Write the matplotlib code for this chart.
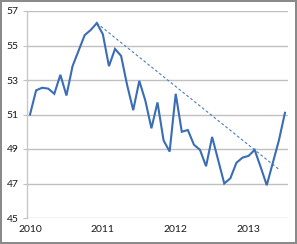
import matplotlib
matplotlib.use("Agg")
import matplotlib.pyplot as plt
import numpy as np

# Monthly index values, Jan 2010 .. Jul 2013
values = [51.0, 52.4, 52.55, 52.5, 52.2, 53.3, 52.1, 53.8, 54.7, 55.6, 55.9, 56.3,
          55.65, 53.8, 54.8, 54.4, 52.7, 51.25, 52.95, 51.8, 50.2, 51.7, 49.5, 48.85,
          52.2, 50.0, 50.1, 49.25, 48.95, 48.0, 49.7, 48.35, 47.0, 47.3, 48.2, 48.5,
          48.6, 48.95, 47.95, 46.9, 48.2, 49.5, 51.1]
months = list(range(len(values)))
year_labels = ["2010", "2011", "2012", "2013"]
year_positions = [0, 12, 24, 36]
y_ticks = [45, 47, 49, 51, 53, 55, 57]

# Trend line: from the peak, through a later point, extended
trend_start = 11
trend_through = 37
trend_end = 41

plt.rcParams['font.family'] = ['Lato', 'DejaVu Sans']

fig = plt.figure(figsize=(2.97, 2.44), dpi=100)
fig.patch.set_facecolor('white')
fig.patch.set_edgecolor('#8a8a8a')
fig.patch.set_linewidth(1.5)
ax = fig.add_axes([27/297, 1 - 218/244, (288 - 27)/297, (218 - 11)/244])

line_color = '#3a6db5'
ax.plot(months, values, color=line_color, lw=1.5, solid_joinstyle='miter', zorder=3)

slope = (values[trend_through] - values[trend_start]) / (trend_through - trend_start)
tx = np.array([trend_start, trend_end])
ty = values[trend_start] + slope * (tx - trend_start)
ax.plot(tx, ty, color='#4a7cc4', lw=0.8, dashes=(2.5, 2), zorder=2)

ax.set_xlim(-0.5, 42.5)
ax.set_ylim(45, 57)
ax.set_yticks(y_ticks)
ax.set_yticklabels([str(v) for v in y_ticks])
ax.set_xticks(year_positions)
ax.set_xticklabels(year_labels)

ax.grid(axis='y', color='#c0c0c0', lw=1.0)
ax.set_axisbelow(True)
for s in ['top', 'right', 'bottom']:
    ax.spines[s].set_visible(False)
ax.spines['left'].set_color('#c8c8c8')
ax.spines['left'].set_linewidth(1.0)

ax.tick_params(axis='y', length=3, width=0.8, color='#c0c0c0', pad=3,
               labelsize=7.5, labelcolor='#1a1a1a')
ax.tick_params(axis='x', length=0, pad=5, labelsize=7.5, labelcolor='#1a1a1a')

fig.savefig('out.png', dpi=100, facecolor=fig.get_facecolor(), edgecolor=fig.get_edgecolor())
